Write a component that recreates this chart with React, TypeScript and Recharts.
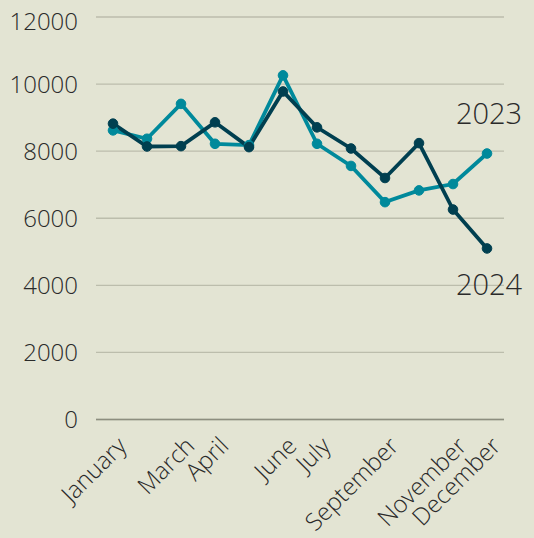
import React from "react";
import { LineChart, Line, XAxis, YAxis, CartesianGrid } from "recharts";

const months = [
  "January", "February", "March", "April", "May", "June",
  "July", "August", "September", "October", "November", "December",
];
const shownMonths = ["January", "March", "April", "June", "July", "September", "November", "December"];
const sales2023 = [8620, 8370, 9410, 8220, 8180, 10260, 8220, 7560, 6480, 6830, 7020, 7930];
const sales2024 = [8820, 8140, 8150, 8860, 8120, 9780, 8710, 8080, 7200, 8240, 6260, 5100];
const yTicks = [0, 2000, 4000, 6000, 8000, 10000, 12000];

const data = months.map((m, i) => ({ month: m, y2023: sales2023[i], y2024: sales2024[i] }));

const FONT = "'Open Sans', 'DejaVu Sans', sans-serif";
const TEXT = "#2a2a2a";
const TEAL = "#00899b";
const DARK = "#003f50";

const XTick = (props: any) => {
  const { x, y, payload } = props;
  if (!shownMonths.includes(payload.value)) return null;
  const ax = x + 15;
  const ay = y + 20;
  return (
    <text
      x={ax}
      y={ay}
      transform={`rotate(-45, ${ax}, ${ay})`}
      textAnchor="end"
      fontSize={24}
      fontFamily={FONT}
      fontWeight={300}
      fill={TEXT}
    >
      {payload.value}
    </text>
  );
};

const seriesLabel = (name: string, dy: number) => (props: any) => {
  const { x, y, index } = props;
  if (index !== months.length - 1) return null;
  return (
    <text
      x={x + 2}
      y={y + dy}
      textAnchor="middle"
      fontSize={29}
      fontFamily={FONT}
      fontWeight={300}
      fill={TEXT}
    >
      {name}
    </text>
  );
};

export default function App() {
  return (
    <div style={{ width: 526, height: 530, background: "#e3e4d3" }}>
      <style>{"body{background:#e3e4d3;}"}</style>
      <LineChart
        width={526}
        height={530}
        data={data}
        margin={{ top: 9, right: 30, bottom: 0, left: 0 }}
      >
        <CartesianGrid vertical={false} stroke="#bcbdac" strokeWidth={1.3} />
        <XAxis
          dataKey="month"
          interval={0}
          height={118.5}
          padding={{ left: 17, right: 17 }}
          tickLine={false}
          axisLine={{ stroke: "#8d8e7f", strokeWidth: 1.6 }}
          tick={<XTick />}
        />
        <YAxis
          width={88}
          domain={[0, 12000]}
          ticks={yTicks}
          axisLine={false}
          tickLine={false}
          tickSize={0}
          tickMargin={18}
          tick={{ fontSize: 24, fontFamily: FONT, fontWeight: 300, fill: TEXT }}
        />
        <Line
          dataKey="y2023"
          stroke={TEAL}
          strokeWidth={3.8}
          dot={{ r: 4.8, fill: TEAL, stroke: TEAL, strokeWidth: 1 }}
          isAnimationActive={false}
          label={seriesLabel("2023", -30)}
        />
        <Line
          dataKey="y2024"
          stroke={DARK}
          strokeWidth={3.8}
          dot={{ r: 4.8, fill: DARK, stroke: DARK, strokeWidth: 1 }}
          isAnimationActive={false}
          label={seriesLabel("2024", 47)}
        />
      </LineChart>
    </div>
  );
}
